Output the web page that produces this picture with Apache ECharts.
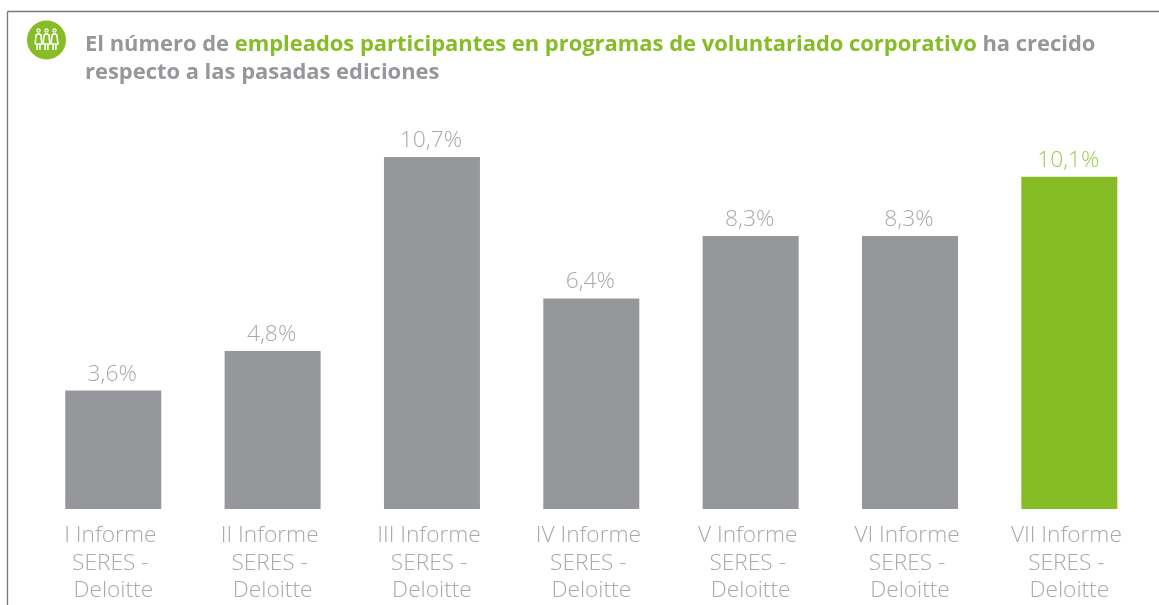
<!DOCTYPE html>
<html>
<head>
<meta charset="utf-8">
<title>Voluntariado corporativo</title>
<script src="https://cdn.jsdelivr.net/npm/echarts@6/dist/echarts.min.js"></script>
<style>
html, body { margin: 0; padding: 0; background: #fff; }
#chart { width: 1159px; height: 605px; }
</style>
</head>
<body>
<div id="chart"></div>
<script>
var informes = ['I Informe \nSERES - \nDeloitte', 'II Informe \nSERES - \nDeloitte', 'III Informe \nSERES - \nDeloitte',
    'IV Informe \nSERES - \nDeloitte', 'V Informe \nSERES - \nDeloitte', 'VI Informe \nSERES - \nDeloitte', 'VII Informe \nSERES - \nDeloitte'];
var porcentajes = [3.6, 4.8, 10.7, 6.4, 8.3, 8.3, 10.1];
var ultimo = informes.length - 1;

var gris = '#96979a';
var verde = '#86bc25';
var borde = '#77787b';
var fuente = '"Open Sans", sans-serif';

var chart = echarts.init(document.getElementById('chart'));

// icono: tres personas dentro del circulo verde
function persona(cx) {
    return [
        { type: 'circle', shape: { cx: cx, cy: 30.5, r: 1.6 }, style: { fill: 'none', stroke: '#fff', lineWidth: 1.2 } },
        { type: 'polyline', shape: { points: [[cx - 3.4, 44], [cx - 2.4, 35], [cx - 1, 34], [cx + 1, 34], [cx + 2.4, 35], [cx + 3.4, 44], [cx - 3.4, 44]] },
          style: { fill: 'none', stroke: '#fff', lineWidth: 1.6 } },
        { type: 'line', shape: { x1: cx - 1.4, y1: 44, x2: cx - 1.4, y2: 50 }, style: { stroke: '#fff', lineWidth: 1.6 } },
        { type: 'line', shape: { x1: cx + 1.4, y1: 44, x2: cx + 1.4, y2: 50 }, style: { stroke: '#fff', lineWidth: 1.6 } }
    ];
}

var graficos = [
    { type: 'line', shape: { x1: 7.5, y1: 11.5, x2: 1159, y2: 11.5 }, style: { stroke: borde, lineWidth: 1.3 } },
    { type: 'line', shape: { x1: 7.5, y1: 11.5, x2: 7.5, y2: 605 }, style: { stroke: borde, lineWidth: 1.3 } },
    { type: 'circle', shape: { cx: 46.5, cy: 40, r: 19.5 }, style: { fill: verde } }
].concat(persona(38.5), persona(46.5), persona(54.5));

chart.setOption({
    animation: false,
    title: {
        left: 80,
        top: 26,
        text: '{a|El número de }{b|empleados participantes en programas de voluntariado corporativo}{a| ha crecido}\n{a|respecto a las pasadas ediciones}',
        textStyle: {
            rich: {
                a: { fontFamily: fuente, fontSize: 21.93, fontWeight: 700, color: gris, lineHeight: 28 },
                b: { fontFamily: fuente, fontSize: 21.93, fontWeight: 700, color: verde, lineHeight: 28 }
            }
        }
    },
    grid: { left: 33.6, width: 1115.4, top: 114.2, height: 394.8 },
    xAxis: {
        type: 'category',
        data: informes,
        axisLine: { show: false },
        axisTick: { show: false },
        axisLabel: {
            interval: 0,
            margin: 13,
            fontFamily: fuente,
            fontWeight: 300,
            fontSize: 22.7,
            lineHeight: 27.5,
            color: '#a7a9ac'
        }
    },
    yAxis: { type: 'value', min: 0, max: 12, show: false },
    series: [{
        type: 'bar',
        barWidth: 96,
        data: porcentajes.map(function (v, i) {
            return {
                value: v,
                itemStyle: { color: i === ultimo ? verde : gris },
                label: { color: i === ultimo ? '#9fcb4f' : '#a7a9ac' }
            };
        }),
        label: {
            show: true,
            position: 'top',
            distance: 5,
            offset: [-1, 0],
            fontFamily: fuente,
            fontWeight: 300,
            fontSize: 22.8,
            formatter: function (p) { return p.value.toFixed(1).replace('.', ',') + '%'; }
        }
    }],
    graphic: graficos
});
</script>
</body>
</html>
